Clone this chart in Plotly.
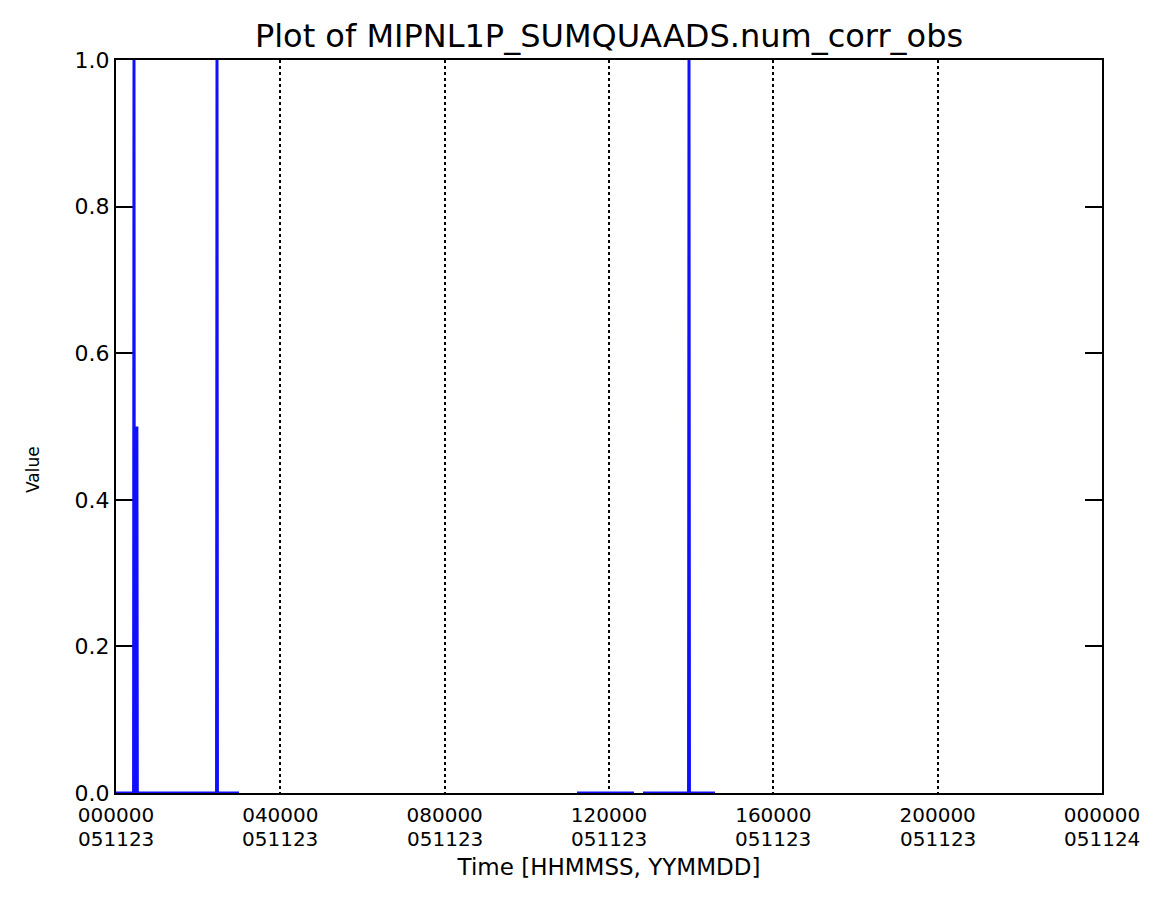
import plotly.graph_objects as go

# Sample times (seconds since 2005-11-23 00:00) and observation counts.
# None entries mark gaps in the data stream.
time_s = [0, 1540, 1577, 1610, 1790, 1830, 1870, 8810, 8850, 8890, 10778,
          None,
          40396, 45390,
          None,
          46180, 50170, 50210, 50250, 52489]
value = [0, 0, 1, 0, 0, 0.5, 0, 0, 1, 0, 0,
         None,
         0, 0,
         None,
         0, 0, 1, 0, 0]

x_tick_vals = [0, 14400, 28800, 43200, 57600, 72000, 86400]
x_tick_time = ["000000", "040000", "080000", "120000", "160000", "200000", "000000"]
x_tick_date = ["051123", "051123", "051123", "051123", "051123", "051123", "051124"]
y_tick_vals = [0.0, 0.2, 0.4, 0.6, 0.8, 1.0]

FONT = "DejaVu Sans"
PLOT_L, PLOT_R, PLOT_T, PLOT_B = 116, 1102, 60, 793
W, H = 1160, 907

fig = go.Figure()
fig.add_trace(go.Scatter(
    x=time_s, y=value, mode="lines",
    line=dict(color="#1010ff", width=3),
    connectgaps=False, cliponaxis=False, showlegend=False,
))

# second line of each time label: the date (YYMMDD)
for xv, d in zip(x_tick_vals, x_tick_date):
    fig.add_annotation(x=xv, xref="x", y=0, yref="paper", text=d,
                       showarrow=False, xanchor="center", yanchor="middle",
                       yshift=-46, borderpad=0,
                       font=dict(size=20, family=FONT, color="black"))

# vertical axis title
fig.add_annotation(text="Value", textangle=-90, showarrow=False,
                   xref="paper", x=(33 - PLOT_L) / (PLOT_R - PLOT_L), xanchor="center",
                   yref="paper", y=(PLOT_B - 470) / (PLOT_B - PLOT_T), yanchor="middle",
                   font=dict(size=17, family=FONT, color="black"))

fig.update_layout(
    width=W, height=H,
    margin=dict(l=PLOT_L, r=W - PLOT_R, t=PLOT_T, b=H - PLOT_B),
    paper_bgcolor="white", plot_bgcolor="white",
    font=dict(family=FONT, color="black", size=20),
    title=dict(text="Plot of MIPNL1P_SUMQUAADS.num_corr_obs",
               x=609 / W, xanchor="center", y=1 - 36 / H, yanchor="middle",
               font=dict(size=32, family=FONT)),
)

fig.update_xaxes(
    range=[0, 86400], tickvals=x_tick_vals, ticktext=x_tick_time,
    showline=True, linecolor="black", linewidth=2, mirror=True,
    showgrid=True, gridcolor="black", gridwidth=1.5, griddash="dot",
    zeroline=False, ticks="", tickfont=dict(size=20), ticklabelstandoff=3,
    title=dict(text="Time [HHMMSS, YYMMDD]", font=dict(size=23), standoff=33),
    layer="below traces",
)
fig.update_yaxes(
    range=[0, 1], tickvals=y_tick_vals, tickformat=".1f",
    showline=True, linecolor="black", linewidth=2, mirror="allticks",
    ticks="inside", ticklen=17, tickwidth=2, tickcolor="black",
    showgrid=False, zeroline=False, tickfont=dict(size=22),
    layer="below traces",
)

fig.write_html("out.html")
